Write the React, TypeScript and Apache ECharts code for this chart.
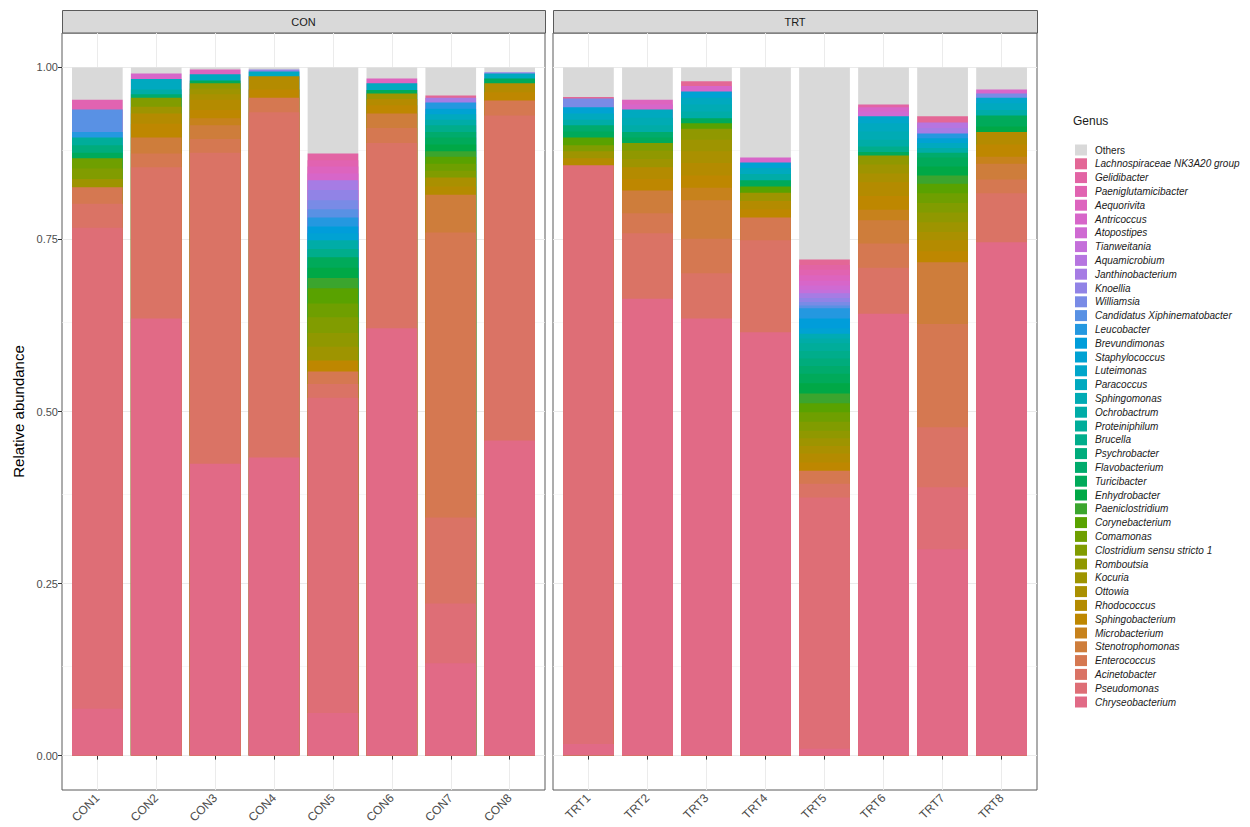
import React, { useEffect, useRef } from "react";
import * as echarts from "echarts";

// ---------- data ----------
const panels = ["CON", "TRT"];
const samplesCON = ["CON1", "CON2", "CON3", "CON4", "CON5", "CON6", "CON7", "CON8"];
const samplesTRT = ["TRT1", "TRT2", "TRT3", "TRT4", "TRT5", "TRT6", "TRT7", "TRT8"];
const yTicks = [0, 0.25, 0.5, 0.75, 1];
const yMinor = [0.125, 0.375, 0.625, 0.875];

// values per sample: CON1..CON8, TRT1..TRT8
const chryseobacterium = [0.068, 0.635, 0.424, 0.433, 0.062, 0.621, 0.134, 0.458, 0.017, 0.664, 0.635, 0.615, 0.010, 0.642, 0.300, 0.746];
const pseudomonas = [0.699, 0, 0, 0, 0.458, 0, 0.087, 0, 0.841, 0, 0, 0, 0.365, 0, 0.090, 0];
const acinetobacter = [0.035, 0.220, 0.452, 0.502, 0.020, 0.269, 0.125, 0.472, 0, 0.095, 0.066, 0.134, 0.020, 0.067, 0.087, 0.071];
const enterococcus = [0.024, 0.020, 0.020, 0.021, 0.018, 0.022, 0.414, 0.022, 0, 0.029, 0.050, 0.033, 0.019, 0.035, 0.150, 0.020];
const stenotrophomonas = [0, 0.023, 0.020, 0, 0, 0.021, 0.055, 0, 0, 0.033, 0.056, 0, 0, 0.034, 0.090, 0.023];
const microbacterium = [0, 0, 0.010, 0, 0, 0, 0, 0, 0, 0, 0.018, 0, 0, 0.015, 0, 0.010];
const sphingobacterium = [0, 0.020, 0.012, 0.012, 0.016, 0.012, 0, 0.012, 0, 0.017, 0.018, 0.012, 0.012, 0.020, 0.016, 0.018];
const rhodococcus = [0, 0.015, 0.015, 0.019, 0, 0.009, 0.012, 0.013, 0.010, 0.017, 0.018, 0.012, 0.013, 0.020, 0.016, 0.018];
const ottowia = [0, 0, 0.008, 0, 0, 0, 0.013, 0, 0, 0, 0.017, 0, 0.011, 0.013, 0.012, 0];
const kocuria = [0.012, 0.010, 0.008, 0, 0.020, 0.008, 0, 0, 0.010, 0.012, 0.017, 0.012, 0.011, 0.013, 0.014, 0];
const romboutsia = [0, 0, 0.008, 0, 0.020, 0, 0, 0, 0, 0.012, 0.016, 0, 0.011, 0.013, 0.014, 0];
const clostridium = [0.015, 0.013, 0, 0, 0.023, 0, 0.010, 0, 0.009, 0.011, 0, 0, 0.013, 0, 0.014, 0];
const comamonas = [0.015, 0, 0, 0, 0.020, 0, 0.010, 0, 0, 0, 0, 0, 0.014, 0, 0.014, 0];
const corynebacterium = [0, 0, 0, 0, 0.022, 0, 0.010, 0, 0.011, 0, 0.008, 0.009, 0.013, 0, 0.014, 0];
const paeniclostridium = [0, 0, 0, 0, 0.015, 0, 0.008, 0, 0, 0, 0, 0, 0.014, 0, 0.012, 0];
const enhydrobacter = [0, 0, 0, 0, 0.015, 0, 0.010, 0, 0, 0, 0, 0, 0.015, 0, 0.013, 0.008];
const turicibacter = [0.008, 0, 0.004, 0, 0.015, 0.005, 0.010, 0.007, 0.009, 0.008, 0.007, 0.009, 0.014, 0.005, 0.013, 0.016];
const flavobacterium = [0, 0.005, 0, 0, 0, 0, 0.008, 0, 0.009, 0.008, 0, 0, 0.011, 0, 0.007, 0];
const psychrobacter = [0.011, 0, 0, 0, 0, 0, 0, 0, 0, 0, 0, 0, 0.011, 0, 0, 0];
const brucella = [0, 0, 0, 0, 0.012, 0, 0.010, 0, 0, 0, 0, 0, 0.011, 0.008, 0, 0];
const proteiniphilum = [0.011, 0, 0, 0, 0, 0, 0, 0, 0, 0, 0, 0, 0.011, 0, 0, 0];
const ochrobactrum = [0, 0.007, 0, 0, 0.013, 0, 0.008, 0, 0.008, 0.010, 0.010, 0.009, 0.007, 0.010, 0.007, 0.008];
const sphingomonas = [0, 0, 0, 0, 0, 0, 0, 0, 0, 0.011, 0.010, 0, 0.007, 0.012, 0, 0];
const paracoccus = [0, 0.015, 0.009, 0.007, 0, 0.010, 0.008, 0.007, 0.009, 0.012, 0.010, 0.009, 0, 0.012, 0.007, 0.010];
const luteimonas = [0, 0, 0, 0, 0, 0, 0, 0, 0, 0, 0, 0, 0, 0.010, 0, 0.008];
const staphylococcus = [0, 0, 0, 0, 0.010, 0, 0.008, 0, 0.009, 0, 0.009, 0.008, 0.008, 0, 0.007, 0];
const brevundimonas = [0, 0, 0, 0, 0.010, 0, 0, 0, 0, 0, 0, 0, 0.014, 0, 0, 0];
const leucobacter = [0.008, 0, 0, 0, 0.013, 0, 0.009, 0, 0, 0, 0, 0, 0.015, 0, 0.007, 0];
const candidatusXiphinematobacter = [0.033, 0, 0, 0, 0.012, 0, 0, 0, 0, 0, 0, 0, 0.004, 0, 0, 0];
const williamsia = [0, 0, 0, 0, 0.013, 0, 0, 0, 0.013, 0, 0, 0, 0.005, 0, 0, 0.006];
const knoellia = [0, 0, 0, 0.003, 0.015, 0, 0, 0.002, 0, 0, 0, 0, 0.006, 0, 0, 0];
const janthinobacterium = [0, 0, 0, 0, 0.014, 0, 0.007, 0, 0, 0, 0, 0, 0.007, 0, 0.008, 0];
const aquamicrobium = [0, 0, 0, 0, 0, 0, 0, 0, 0, 0, 0, 0, 0, 0, 0.008, 0];
const tianweitania = [0, 0, 0, 0, 0, 0, 0, 0, 0, 0, 0, 0, 0.005, 0, 0, 0];
const atopostipes = [0, 0, 0, 0, 0, 0, 0, 0, 0, 0, 0, 0, 0.006, 0.007, 0, 0];
const antricoccus = [0, 0.008, 0, 0, 0.010, 0, 0, 0, 0, 0.007, 0.008, 0.007, 0.007, 0.006, 0, 0.006];
const aequorivita = [0, 0, 0.007, 0, 0.010, 0.007, 0, 0, 0, 0.007, 0, 0, 0.008, 0, 0, 0];
const paeniglutamicibacter = [0.014, 0, 0, 0, 0.009, 0, 0, 0, 0, 0, 0, 0, 0.008, 0, 0, 0];
const gelidibacter = [0, 0, 0, 0, 0.010, 0, 0, 0, 0, 0, 0, 0, 0.007, 0.004, 0, 0];
const lachnospiraceae = [0, 0, 0, 0, 0, 0, 0.003, 0, 0.002, 0, 0.007, 0, 0.008, 0, 0.009, 0];
const others = [0.047, 0.009, 0.003, 0.003, 0.125, 0.016, 0.041, 0.007, 0.043, 0.047, 0.020, 0.131, 0.279, 0.054, 0.071, 0.032];

// stacking order: bottom -> top
const genera: [string, number[]][] = [
  ["Chryseobacterium", chryseobacterium],
  ["Pseudomonas", pseudomonas],
  ["Acinetobacter", acinetobacter],
  ["Enterococcus", enterococcus],
  ["Stenotrophomonas", stenotrophomonas],
  ["Microbacterium", microbacterium],
  ["Sphingobacterium", sphingobacterium],
  ["Rhodococcus", rhodococcus],
  ["Ottowia", ottowia],
  ["Kocuria", kocuria],
  ["Romboutsia", romboutsia],
  ["Clostridium sensu stricto 1", clostridium],
  ["Comamonas", comamonas],
  ["Corynebacterium", corynebacterium],
  ["Paeniclostridium", paeniclostridium],
  ["Enhydrobacter", enhydrobacter],
  ["Turicibacter", turicibacter],
  ["Flavobacterium", flavobacterium],
  ["Psychrobacter", psychrobacter],
  ["Brucella", brucella],
  ["Proteiniphilum", proteiniphilum],
  ["Ochrobactrum", ochrobactrum],
  ["Sphingomonas", sphingomonas],
  ["Paracoccus", paracoccus],
  ["Luteimonas", luteimonas],
  ["Staphylococcus", staphylococcus],
  ["Brevundimonas", brevundimonas],
  ["Leucobacter", leucobacter],
  ["Candidatus Xiphinematobacter", candidatusXiphinematobacter],
  ["Williamsia", williamsia],
  ["Knoellia", knoellia],
  ["Janthinobacterium", janthinobacterium],
  ["Aquamicrobium", aquamicrobium],
  ["Tianweitania", tianweitania],
  ["Atopostipes", atopostipes],
  ["Antricoccus", antricoccus],
  ["Aequorivita", aequorivita],
  ["Paeniglutamicibacter", paeniglutamicibacter],
  ["Gelidibacter", gelidibacter],
  ["Lachnospiraceae NK3A20 group", lachnospiraceae],
];

// ---------- colours (qualitative HCL, c=80, l=60) ----------
function hcl(h: number, c: number, l: number): string {
  const hr = (h * Math.PI) / 180;
  const U = c * Math.cos(hr);
  const V = c * Math.sin(hr);
  const Xn = 95.047, Yn = 100, Zn = 108.883;
  const Y = l > 8 ? Yn * Math.pow((l + 16) / 116, 3) : (Yn * l) / 903.3;
  const t = Xn + 15 * Yn + 3 * Zn;
  const un = (4 * Xn) / t, vn = (9 * Yn) / t;
  const u = U / (13 * l) + un;
  const v = V / (13 * l) + vn;
  const X = (9 * Y * u) / (4 * v);
  const Z = -X / 3 - 5 * Y + (3 * Y) / v;
  const lin = [
    (3.240479 * X - 1.53715 * Y - 0.498535 * Z) / 100,
    (-0.969256 * X + 1.875992 * Y + 0.041556 * Z) / 100,
    (0.055648 * X - 0.204043 * Y + 1.057311 * Z) / 100,
  ];
  const hex = lin
    .map((x) => {
      const g = x <= 0.0031308 ? 12.92 * x : 1.055 * Math.pow(Math.max(x, 0), 1 / 2.4) - 0.055;
      const n = Math.round(Math.min(1, Math.max(0, g)) * 255);
      return n.toString(16).padStart(2, "0");
    })
    .join("");
  return "#" + hex;
}
const genusColors = genera.map((_, i) => hcl((i * 360) / genera.length, 80, 60));
const othersColor = "#D9D9D9";

export default function App() {
  const ref = useRef<HTMLDivElement>(null);

  useEffect(() => {
    document.body.style.margin = "0";
    if (!ref.current) return;
    const chart = echarts.init(ref.current, undefined, { renderer: "svg" });

    const panelLeft = [62, 553];
    const panelWidth = [483, 484];
    const top = 33;
    const height = 757;
    const font = "'Liberation Sans', Arial, Helvetica, sans-serif";
    const borderGrey = "#5A5A5A";

    const grids: any[] = [];
    const xAxes: any[] = [];
    const yAxes: any[] = [];
    const series: any[] = [];
    const graphics: any[] = [];

    // all layers bottom -> top, Others last
    const layers: [string, number[], string][] = [
      ...genera.map(([n, a], i) => [n, a, genusColors[i]] as [string, number[], string]),
      ["Others", others, othersColor],
    ];

    panels.forEach((panel, p) => {
      const L = panelLeft[p];
      const W = panelWidth[p];
      const u = W / 8.2;
      const samples = p === 0 ? samplesCON : samplesTRT;
      // background panel
      grids.push({ left: L, top, width: W, height, show: true, borderColor: borderGrey, borderWidth: 1, backgroundColor: "transparent" });
      // bars area (discrete expansion 0.6)
      grids.push({ left: L + 0.1 * u, top, width: 8 * u, height, show: false });

      xAxes.push({ gridIndex: 2 * p, type: "value", min: 0, max: 1, show: false });
      xAxes.push({
        gridIndex: 2 * p + 1,
        type: "category",
        data: samples,
        axisLine: { show: false },
        axisTick: { show: true, alignWithLabel: true, length: 4, lineStyle: { color: "#333333" } },
        axisLabel: { rotate: 45, fontSize: 12, color: "#4D4D4D", margin: 6, fontFamily: font },
        splitLine: { show: true, alignWithLabel: true, lineStyle: { color: "#EBEBEB", width: 1 } },
      });

      yAxes.push({
        gridIndex: 2 * p,
        type: "value",
        min: -0.05,
        max: 1.05,
        axisLine: { show: false },
        axisTick: { show: p === 0, customValues: yTicks, length: 4, lineStyle: { color: "#333333" } },
        axisLabel: { show: p === 0, customValues: yTicks, formatter: (v: number) => v.toFixed(2), fontSize: 11, color: "#4D4D4D", margin: 4, fontFamily: font },
        splitLine: { show: true, lineStyle: { color: "#EBEBEB", width: 1 } },
        name: p === 0 ? "Relative abundance" : "",
        nameLocation: "middle",
        nameGap: 36,
        nameTextStyle: { fontSize: 15, color: "#000000", fontFamily: font },
      });
      yAxes.push({ gridIndex: 2 * p + 1, type: "value", min: -0.05, max: 1.05, show: false });

      // minor grid lines (kept behind the bars)
      series.push({
        type: "line",
        name: "_minor" + p,
        xAxisIndex: 2 * p,
        yAxisIndex: 2 * p,
        data: [],
        z: 0,
        silent: true,
        markLine: {
          silent: true,
          z: 0,
          symbol: "none",
          label: { show: false },
          lineStyle: { color: "#F2F2F2", width: 0.6, type: "solid" },
          data: yMinor.map((v) => ({ yAxis: v })),
        },
      });

      // cumulative tops per layer (stacked appearance, no seams):
      // each layer is a bar from 0 to its cumulative top, drawn top layer first.
      const running = new Array(8).fill(0);
      const cumulative = layers.map(([name, arr, color]) => {
        const own = arr.slice(p * 8, p * 8 + 8);
        const tops = own.map((v, s) => {
          running[s] += v;
          return v > 0 ? +running[s].toFixed(4) : null;
        });
        return { name, color, tops };
      });
      cumulative
        .slice()
        .reverse()
        .forEach(({ name, color, tops }) => {
          series.push({
            type: "bar",
            name,
            xAxisIndex: 2 * p + 1,
            yAxisIndex: 2 * p + 1,
            barWidth: "86%",
            barGap: "-100%",
            z: 2,
            data: tops,
            itemStyle: { color },
            emphasis: { disabled: true },
          });
        });

      // facet strip
      graphics.push({
        type: "rect",
        shape: { x: L + 0.5, y: 10.5, width: W, height: 22.5 },
        style: { fill: "#D9D9D9", stroke: borderGrey, lineWidth: 1 },
        silent: true,
      });
      graphics.push({
        type: "text",
        x: L + W / 2,
        y: 22,
        style: { text: panel, fontSize: 11, fill: "#1A1A1A", align: "center", verticalAlign: "middle", fontFamily: font },
        silent: true,
      });
    });

    const legendOrder = ["Others", ...genera.map((g) => g[0]).reverse()];

    chart.setOption({
      animation: false,
      backgroundColor: "#FFFFFF",
      textStyle: { fontFamily: font },
      title: {
        text: "Genus",
        left: 1068,
        top: 110,
        textStyle: { fontSize: 12, fontWeight: "normal", color: "#1A1A1A", fontFamily: font },
      },
      legend: {
        orient: "vertical",
        left: 1070,
        top: 139.5,
        itemWidth: 12,
        itemHeight: 11,
        itemGap: 2.8,
        icon: "rect",
        selectedMode: false,
        data: legendOrder,
        itemStyle: { borderWidth: 0 },
        formatter: (name: string) => (name === "Others" ? `{n|${name}}` : `{i|${name}}`),
        textStyle: {
          fontSize: 10,
          color: "#1A1A1A",
          lineHeight: 11,
          fontFamily: font,
          rich: {
            n: { fontSize: 10, lineHeight: 11, padding: [0, 0, 0, 3], fontFamily: font, color: "#1A1A1A" },
            i: { fontSize: 10, lineHeight: 11, fontStyle: "italic", padding: [0, 0, 0, 3], fontFamily: font, color: "#1A1A1A" },
          },
        },
      },
      grid: grids,
      xAxis: xAxes,
      yAxis: yAxes,
      series,
      graphic: graphics,
    });

    return () => chart.dispose();
  }, []);

  return <div ref={ref} style={{ width: 1250, height: 827 }} />;
}
